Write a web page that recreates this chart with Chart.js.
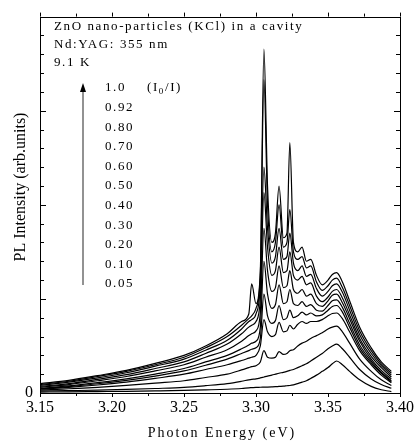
<!DOCTYPE html>
<html><head><meta charset="utf-8">
<script src="https://cdn.jsdelivr.net/npm/chart.js@4/dist/chart.umd.min.js"></script>
<style>html,body{margin:0;padding:0;background:#fff;}</style>
</head><body>
<canvas id="c" width="419" height="447"></canvas>
<script>
// Photon energy grid (eV)
const energies = [3.150,3.170,3.190,3.210,3.230,3.250,3.265,3.280,3.290,3.295,3.297,3.300,3.303,3.3055,3.308,3.311,3.3135,3.316,3.319,3.3215,3.3235,3.326,3.329,3.332,3.335,3.338,3.342,3.346,3.350,3.353,3.356,3.360,3.365,3.372,3.380,3.387,3.394];

// PL intensity (arb. units) for each I0/I ratio
const r005 = [0.010,0.012,0.015,0.018,0.022,0.027,0.033,0.040,0.048,0.055,0.057,0.060,0.061,0.062,0.063,0.065,0.067,0.070,0.073,0.077,0.080,0.087,0.100,0.115,0.130,0.155,0.190,0.230,0.270,0.310,0.340,0.300,0.230,0.140,0.070,0.035,0.015];
const r010 = [0.020,0.025,0.030,0.038,0.048,0.060,0.078,0.100,0.125,0.140,0.145,0.150,0.160,0.170,0.180,0.190,0.200,0.210,0.220,0.230,0.240,0.250,0.270,0.290,0.310,0.340,0.380,0.420,0.470,0.500,0.520,0.470,0.380,0.250,0.150,0.090,0.050];
const r020 = [0.030,0.045,0.060,0.080,0.105,0.130,0.165,0.200,0.245,0.270,0.280,0.290,0.330,0.450,0.380,0.370,0.380,0.440,0.410,0.420,0.450,0.460,0.500,0.530,0.550,0.580,0.610,0.640,0.680,0.700,0.710,0.650,0.530,0.360,0.230,0.140,0.080];
const r030 = [0.040,0.060,0.085,0.115,0.155,0.200,0.250,0.300,0.345,0.370,0.380,0.400,0.500,0.780,0.650,0.600,0.620,0.750,0.650,0.660,0.720,0.680,0.730,0.760,0.740,0.760,0.760,0.780,0.820,0.845,0.850,0.790,0.650,0.450,0.300,0.190,0.110];
const r040 = [0.045,0.068,0.098,0.135,0.180,0.235,0.295,0.360,0.420,0.450,0.465,0.480,0.580,1.050,0.820,0.740,0.770,0.930,0.780,0.800,0.880,0.800,0.820,0.860,0.830,0.850,0.820,0.830,0.880,0.920,0.930,0.860,0.700,0.480,0.320,0.210,0.120];
const r050 = [0.050,0.075,0.110,0.150,0.200,0.260,0.330,0.400,0.470,0.510,0.530,0.550,0.700,1.400,1.050,0.900,0.940,1.150,0.950,0.970,1.100,0.950,0.930,0.970,0.920,0.940,0.880,0.870,0.930,0.980,0.990,0.910,0.740,0.510,0.340,0.220,0.130];
const r060 = [0.060,0.090,0.130,0.175,0.235,0.300,0.380,0.460,0.550,0.610,0.630,0.660,0.850,1.750,1.300,1.080,1.120,1.350,1.120,1.140,1.300,1.100,1.060,1.100,1.030,1.050,0.950,0.920,0.980,1.040,1.050,0.960,0.790,0.550,0.360,0.240,0.150];
const r070 = [0.070,0.100,0.145,0.195,0.260,0.330,0.420,0.520,0.630,0.700,0.720,0.760,1.000,2.130,1.550,1.250,1.300,1.550,1.280,1.300,1.500,1.250,1.200,1.240,1.150,1.170,1.030,0.970,1.020,1.080,1.100,1.010,0.830,0.580,0.390,0.270,0.170];
const r080 = [0.080,0.115,0.160,0.215,0.285,0.360,0.455,0.560,0.680,0.760,0.780,0.840,1.150,2.400,1.750,1.380,1.450,1.750,1.420,1.450,1.700,1.380,1.300,1.350,1.240,1.260,1.110,1.030,1.080,1.140,1.160,1.070,0.880,0.620,0.420,0.290,0.190];
const r092 = [0.090,0.125,0.175,0.230,0.300,0.380,0.480,0.600,0.720,0.790,0.820,0.900,1.250,3.330,2.000,1.500,1.600,2.000,1.550,1.600,1.950,1.500,1.420,1.450,1.330,1.350,1.180,1.090,1.140,1.200,1.220,1.120,0.930,0.660,0.450,0.310,0.210];
const r100 = [0.100,0.135,0.185,0.240,0.315,0.400,0.500,0.630,0.760,0.840,1.160,0.950,1.300,3.655,2.200,1.600,1.700,2.200,1.650,1.700,2.660,1.600,1.500,1.550,1.400,1.420,1.250,1.150,1.200,1.260,1.280,1.180,0.980,0.700,0.480,0.330,0.230];

const seriesList = [r005, r010, r020, r030, r040, r050, r060, r070, r080, r092, r100];
const ratioLabels = ['1.0','0.92','0.80','0.70','0.60','0.50','0.40','0.30','0.20','0.10','0.05'];
const xTickValues = [3.15, 3.20, 3.25, 3.30, 3.35, 3.40];
const infoLines = ['ZnO nano-particles (KCl) in a cavity', 'Nd:YAG: 355 nm', '9.1 K'];

const SERIF = "'Liberation Serif', 'Times New Roman', serif";

const decor = {
  id: 'decor',
  afterDraw(chart) {
    const ctx = chart.ctx;
    const a = chart.chartArea;
    const xs = chart.scales.x, ys = chart.scales.y;
    ctx.save();
    ctx.strokeStyle = '#000';
    ctx.lineWidth = 1;
    // frame
    ctx.strokeRect(Math.round(a.left) + 0.5, Math.round(a.top) + 0.5, Math.round(a.right - a.left), Math.round(a.bottom - a.top));
    // x ticks (outward), every 0.025
    ctx.beginPath();
    for (let k = 0; k <= 10; k++) {
      const v = 3.15 + k * 0.025;
      const px = Math.round(xs.getPixelForValue(v)) + 0.5;
      const len = (k % 2 === 0) ? 4 : 3;
      ctx.moveTo(px, a.bottom); ctx.lineTo(px, a.bottom + len);
      ctx.moveTo(px, a.top); ctx.lineTo(px, a.top - len);
    }
    // y ticks (inward), every 0.2
    for (let k = 0; k <= 20; k++) {
      const v = k * 0.2;
      const py = Math.round(ys.getPixelForValue(v)) + 0.5;
      const len = (k % 5 === 0) ? 6 : 4;
      ctx.moveTo(a.left, py); ctx.lineTo(a.left + len, py);
      ctx.moveTo(a.right, py); ctx.lineTo(a.right - len, py);
    }
    ctx.stroke();

    // texts
    ctx.fillStyle = '#000';
    ctx.textBaseline = 'middle';
    ctx.textAlign = 'left';
    ctx.font = '13px ' + SERIF;
    ctx.letterSpacing = '1.6px';
    const infoY = [27, 45, 63];
    infoLines.forEach((t, i) => ctx.fillText(t, 54, infoY[i]));
    ratioLabels.forEach((t, i) => ctx.fillText(t, 105, 88 + i * 19.6));
    // (I0/I)
    let x0 = 147;
    ctx.fillText('(I', x0, 88);
    x0 += ctx.measureText('(I').width;
    ctx.font = '9px ' + SERIF;
    ctx.fillText('0', x0, 92);
    x0 += ctx.measureText('0').width;
    ctx.font = '13px ' + SERIF;
    ctx.fillText('/I)', x0, 88);

    // arrow
    ctx.strokeStyle = '#777';
    ctx.lineWidth = 1.6;
    ctx.beginPath();
    ctx.moveTo(83, 285); ctx.lineTo(83, 90);
    ctx.stroke();
    ctx.fillStyle = '#000';
    ctx.beginPath();
    ctx.moveTo(83, 83); ctx.lineTo(86, 92); ctx.lineTo(80, 92); ctx.closePath();
    ctx.fill();

    // axis titles
    ctx.fillStyle = '#000';
    ctx.font = '14px ' + SERIF;
    ctx.letterSpacing = '2px';
    ctx.textAlign = 'center';
    ctx.fillText('Photon Energy (eV)', 222, 433);
    ctx.letterSpacing = '0px';
    ctx.translate(21, 187);
    ctx.rotate(-Math.PI / 2);
    ctx.font = '16px ' + SERIF;
    ctx.fillText('PL Intensity (arb.units)', 0, 0);
    ctx.restore();
  }
};

new Chart(document.getElementById('c').getContext('2d'), {
  type: 'line',
  data: {
    datasets: seriesList.map(s => ({
      data: energies.map((e, i) => ({ x: e, y: s[i] })),
      borderColor: '#000',
      borderWidth: 1.2,
      pointRadius: 0,
      fill: false,
      cubicInterpolationMode: 'monotone'
    }))
  },
  options: {
    responsive: false,
    animation: false,
    layout: { padding: { top: 9, right: 14, left: 0, bottom: 0 } },
    plugins: { legend: { display: false }, tooltip: { enabled: false } },
    scales: {
      x: {
        type: 'linear', min: 3.15, max: 3.40,
        afterFit(s) { s.height = 54; },
        afterBuildTicks(s) { s.ticks = xTickValues.map(v => ({ value: v })); },
        ticks: { callback: v => v.toFixed(2), font: { family: SERIF, size: 16 }, color: '#000', padding: 5, maxRotation: 0, autoSkip: false },
        grid: { display: false, drawTicks: false },
        border: { display: false }
      },
      y: {
        min: 0, max: 4,
        afterFit(s) { s.width = 40; },
        ticks: { stepSize: 1, callback: v => (v === 0 ? '0' : ''), font: { family: SERIF, size: 16 }, color: '#000', padding: 7 },
        grid: { display: false, drawTicks: false },
        border: { display: false }
      }
    }
  },
  plugins: [decor]
});
</script>
</body></html>
